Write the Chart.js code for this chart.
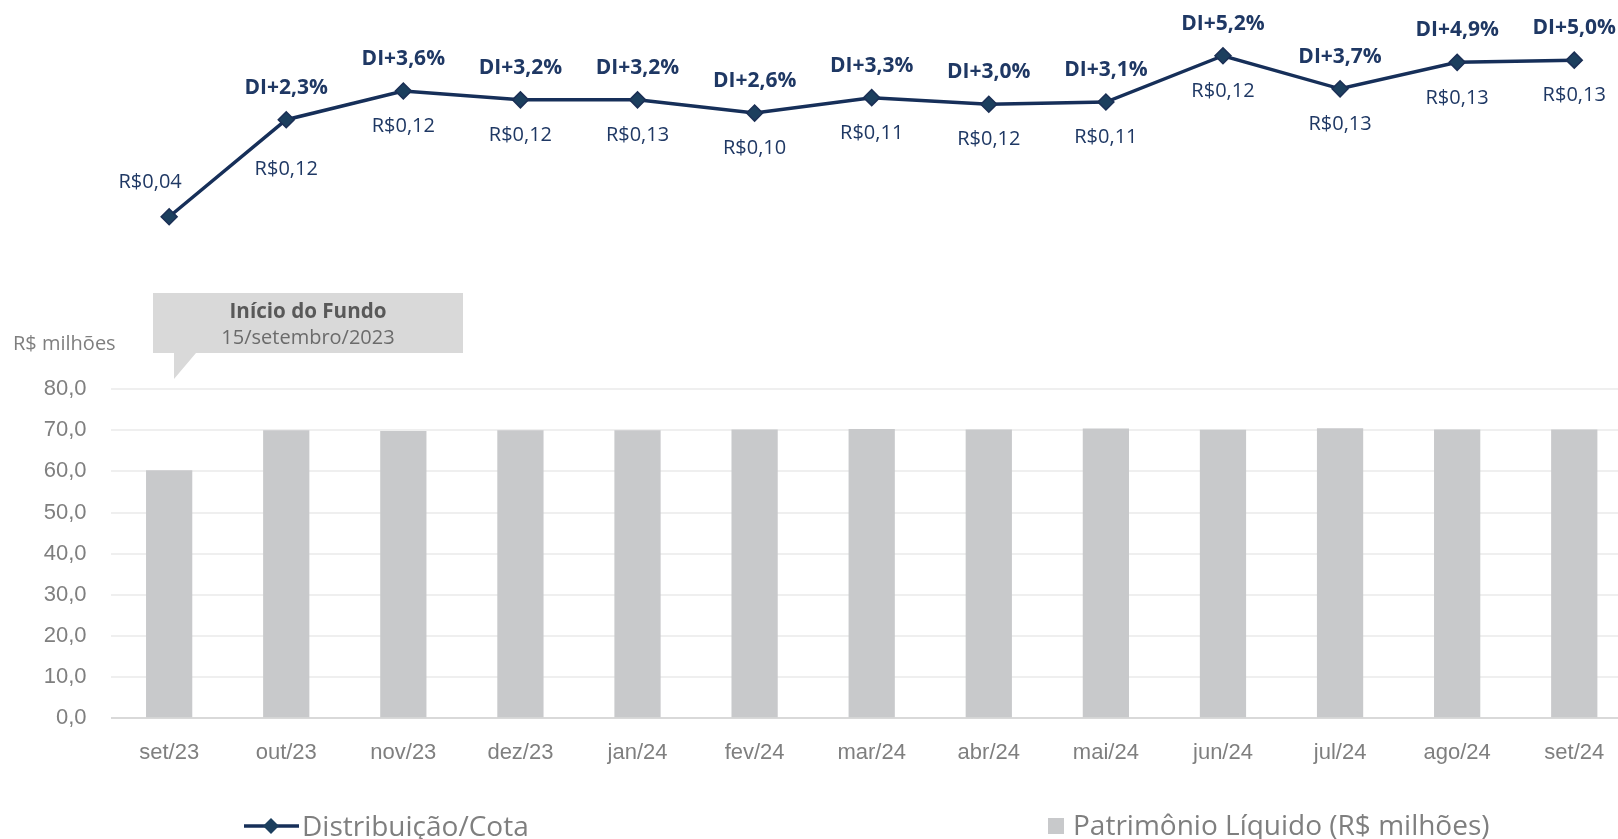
<!DOCTYPE html>
<html>
<head>
<meta charset="utf-8">
<script src="https://cdn.jsdelivr.net/npm/chart.js@4/dist/chart.umd.min.js"></script>
<style>
    html, body { margin: 0; padding: 0; background: #fff; overflow: hidden; }
    #wrap { position: relative; width: 1700px; height: 839px; }
</style>
</head>
<body>
<div id="wrap"><canvas id="fundChart"></canvas></div>
<script>
// Months on the x axis
const months = ['set/23', 'out/23', 'nov/23', 'dez/23', 'jan/24', 'fev/24', 'mar/24',
    'abr/24', 'mai/24', 'jun/24', 'jul/24', 'ago/24', 'set/24'];

// Patrimônio Líquido (R$ milhões) - bars
const patrimonio = [60.3, 70.0, 69.8, 70.0, 70.0, 70.2, 70.3, 70.2, 70.4, 70.1, 70.5, 70.2, 70.2];

// Spread over DI (%) - line height; first month has no published spread
const spreadDI = [-2.1, 2.3, 3.6, 3.2, 3.2, 2.6, 3.3, 3.0, 3.1, 5.2, 3.7, 4.9, 5.0];

// Distribuição por cota (R$)
const distribuicao = [0.04, 0.12, 0.12, 0.12, 0.13, 0.10, 0.11, 0.12, 0.11, 0.12, 0.13, 0.13, 0.13];

const yTicksMax = 80;

const NAVY = '#1f3864';
const GRAY_TEXT = '#7f7f7f';
const SANS = '"Open Sans", "Noto Sans", sans-serif';
const NARROW = '"Liberation Sans Narrow", "Arial Narrow", "Liberation Sans", sans-serif';

const comma = (v, d) => v.toFixed(d).replace('.', ',');

/**
 * Labels above / below each point of the line
 */
const pointLabels = {
    id: 'pointLabels',
    afterDatasetsDraw(chart) {
        const ctx = chart.ctx;
        const meta = chart.getDatasetMeta(1);
        ctx.save();
        ctx.textAlign = 'center';
        ctx.textBaseline = 'middle';
        meta.data.forEach((pt, i) => {
            const money = 'R$' + comma(distribuicao[i], 2);
            if (spreadDI[i] < 0) {
                // no spread label: value goes above, to the left
                ctx.font = '20px ' + SANS;
                ctx.fillStyle = NAVY;
                ctx.fillText(money, pt.x - 19, pt.y - 34);
                return;
            }
            ctx.font = 'bold 21px ' + SANS;
            ctx.fillStyle = NAVY;
            ctx.fillText('DI+' + comma(spreadDI[i], 1) + '%', pt.x, pt.y - 32);

            // push the lower label further down when the line climbs steeply into the point
            const prev = meta.data[i - 1];
            const extra = prev && prev.y - pt.y > 60 ? 14 : 0;
            ctx.font = '20px ' + SANS;
            ctx.fillText(money, pt.x, pt.y + 35.5 + extra);
        });
        ctx.restore();
    }
};

/**
 * Annotation box, axis unit and bottom legend
 */
const extras = {
    id: 'extras',
    afterDraw(chart) {
        const ctx = chart.ctx;
        ctx.save();

        // axis unit
        ctx.font = '20px ' + SANS;
        ctx.fillStyle = GRAY_TEXT;
        ctx.textAlign = 'left';
        ctx.textBaseline = 'middle';
        ctx.fillText('R$ milhões', 13, 344);

        // "Início do Fundo" callout
        ctx.fillStyle = '#d9d9d9';
        ctx.beginPath();
        ctx.moveTo(153, 293);
        ctx.lineTo(463, 293);
        ctx.lineTo(463, 353);
        ctx.lineTo(196, 353);
        ctx.lineTo(174, 379);
        ctx.lineTo(174, 353);
        ctx.lineTo(153, 353);
        ctx.closePath();
        ctx.fill();

        ctx.textAlign = 'center';
        ctx.fillStyle = '#595959';
        ctx.font = 'bold 20.6px ' + SANS;
        ctx.fillText('Início do Fundo', 308, 312);
        ctx.fillStyle = '#6b6b6b';
        ctx.font = '20px ' + SANS;
        ctx.fillText('15/setembro/2023', 308, 338);

        // legend: line series
        ctx.strokeStyle = '#162f59';
        ctx.lineWidth = 3.5;
        ctx.beginPath();
        ctx.moveTo(244, 826);
        ctx.lineTo(299, 826);
        ctx.stroke();
        ctx.fillStyle = '#1c3f5e';
        ctx.beginPath();
        ctx.moveTo(271, 818);
        ctx.lineTo(279, 826);
        ctx.lineTo(271, 834);
        ctx.lineTo(263, 826);
        ctx.closePath();
        ctx.fill();

        ctx.textAlign = 'left';
        ctx.fillStyle = GRAY_TEXT;
        ctx.font = '28px ' + SANS;
        ctx.fillText('Distribuição/Cota', 302, 828);

        // legend: bars
        ctx.fillStyle = '#c8c9cb';
        ctx.fillRect(1048, 818, 16, 16);
        ctx.fillStyle = GRAY_TEXT;
        ctx.font = '28px ' + SANS;
        ctx.fillText('Patrimônio Líquido (R$ milhões)', 1073, 827);

        ctx.restore();
    }
};

const ctx = document.getElementById('fundChart').getContext('2d');

new Chart(ctx, {
    data: {
        labels: months,
        datasets: [
            {
                type: 'bar',
                label: 'Patrimônio Líquido (R$ milhões)',
                data: patrimonio,
                yAxisID: 'y',
                backgroundColor: '#c8c9cb',
                barPercentage: 1,
                categoryPercentage: 0.395,
                order: 2
            },
            {
                type: 'line',
                label: 'Distribuição/Cota',
                data: spreadDI,
                yAxisID: 'y2',
                borderColor: '#162f59',
                borderWidth: 3.5,
                tension: 0,
                pointStyle: 'rectRot',
                pointRadius: 8,
                pointBackgroundColor: '#1c3f5e',
                pointBorderColor: '#1b2f55',
                pointBorderWidth: 1.5,
                clip: false,
                order: 1
            }
        ]
    },
    options: {
        responsive: true,
        maintainAspectRatio: false,
        animation: false,
        layout: { padding: { top: 50, right: 67.2, left: 0, bottom: 0 } },
        plugins: {
            legend: { display: false },
            tooltip: { enabled: false }
        },
        scales: {
            x: {
                offset: true,
                grid: { display: false, drawTicks: false },
                border: { display: false },
                ticks: {
                    color: GRAY_TEXT,
                    font: { family: NARROW, size: 22 },
                    padding: 21,
                    maxRotation: 0
                },
                afterFit: (scale) => { scale.height = 120.7; }
            },
            y: {
                position: 'left',
                min: 0,
                max: 162.4,
                grid: {
                    drawTicks: false,
                    lineWidth: 2,
                    color: (c) => c.tick && c.tick.value === 0 ? '#d9d9d9' : '#efefef'
                },
                border: { display: false },
                ticks: {
                    stepSize: 10,
                    color: GRAY_TEXT,
                    font: { family: NARROW, size: 22 },
                    padding: 24,
                    callback: (v) => comma(v, 1)
                },
                afterBuildTicks: (scale) => {
                    scale.ticks = scale.ticks.filter(t => t.value <= yTicksMax);
                },
                afterFit: (scale) => { scale.width = 110.6; }
            },
            y2: {
                display: false,
                min: -24.84,
                max: 5.46
            }
        }
    },
    plugins: [pointLabels, extras]
});
</script>
</body>
</html>
